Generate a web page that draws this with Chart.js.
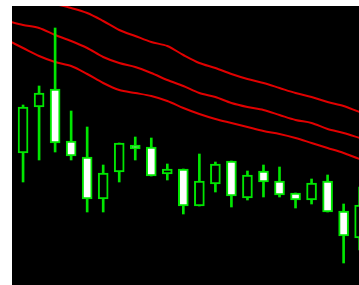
<!DOCTYPE html>
<html>
<head>
<meta charset="utf-8">
<script src="https://cdn.jsdelivr.net/npm/chart.js@4/dist/chart.umd.min.js"></script>
<style>
    body { margin: 0; background: #fff; }
    #wrap { width: 359px; height: 285px; }
</style>
</head>
<body>
<div id="wrap"><canvas id="chart"></canvas></div>
<script>
// candles, index 0..21
let opens  = [1.2632, 1.2678, 1.2696, 1.2644, 1.2628, 1.2586, 1.2613, 1.2640, 1.2638, 1.2611, 1.2616, 1.2579, 1.2601, 1.2624, 1.2587, 1.2614, 1.2604, 1.2592, 1.2585, 1.2604, 1.2574, 1.2547]
let highs  = [1.2680, 1.2699, 1.2757, 1.2674, 1.2658, 1.2620, 1.2642, 1.2648, 1.2647, 1.2621, 1.2616, 1.2631, 1.2623, 1.2624, 1.2614, 1.2620, 1.2618, 1.2592, 1.2606, 1.2610, 1.2581, 1.2598]
let lows   = [1.2603, 1.2625, 1.2633, 1.2625, 1.2573, 1.2573, 1.2603, 1.2625, 1.2609, 1.2605, 1.2571, 1.2579, 1.2593, 1.2578, 1.2585, 1.2588, 1.2588, 1.2577, 1.2581, 1.2573, 1.2522, 1.2535]
let closes = [1.2678, 1.2692, 1.2642, 1.2629, 1.2586, 1.2612, 1.2642, 1.2636, 1.2609, 1.2616, 1.2579, 1.2604, 1.2621, 1.2589, 1.2610, 1.2603, 1.2590, 1.2585, 1.2602, 1.2573, 1.2549, 1.2580]

// band lines, index -1..22
let bandIndex = [-1, 0, 1, 2, 3, 4, 5, 6, 7, 8, 9, 10, 11, 12, 13, 14, 15, 16, 17, 18, 19, 20, 21, 22]
let upperBand = [1.2794, 1.2789, 1.2785, 1.2781, 1.2777, 1.2772, 1.2764, 1.2755, 1.2749, 1.2743, 1.2739, 1.2730, 1.2722, 1.2717, 1.2711, 1.2706, 1.2702, 1.2697, 1.2692, 1.2688, 1.2683, 1.2679, 1.2673, 1.2668]
let middleBand = [1.2764, 1.2760, 1.2757, 1.2750, 1.2744, 1.2737, 1.2728, 1.2722, 1.2718, 1.2712, 1.2705, 1.2699, 1.2692, 1.2688, 1.2682, 1.2678, 1.2675, 1.2670, 1.2665, 1.2662, 1.2656, 1.2652, 1.2647, 1.2642]
let lowerBand = [1.2745, 1.2737, 1.2729, 1.2723, 1.2719, 1.2711, 1.2702, 1.2695, 1.2692, 1.2689, 1.2684, 1.2677, 1.2671, 1.2666, 1.2662, 1.2658, 1.2654, 1.2651, 1.2647, 1.2642, 1.2637, 1.2632, 1.2626, 1.2621]

let green = '#00e600'
let red = '#e00000'

let bodies = opens.map(function (o, i) { return {x: i, y: [o, closes[i]]} })
let wicks = highs.map(function (h, i) { return {x: i, y: [lows[i], h]} })
let bodyFill = opens.map(function (o, i) { return closes[i] < o ? '#ffffff' : '#000000' })

function band(values) {
    return values.map(function (v, i) { return {x: bandIndex[i], y: v} })
}

function lineSet(values) {
    return {
        type: 'line',
        data: band(values),
        borderColor: red,
        borderWidth: 2,
        pointRadius: 0,
        tension: 0.3,
        clip: 0,
        order: 2
    }
}

let bgPlugin = {
    id: 'bg',
    beforeDraw: function (chart) {
        let ctx = chart.ctx
        let a = chart.chartArea
        ctx.save()
        ctx.fillStyle = '#ffffff'
        ctx.fillRect(0, 0, chart.width, chart.height)
        ctx.fillStyle = '#000000'
        ctx.fillRect(a.left, a.top, a.right - a.left, a.bottom - a.top)
        ctx.restore()
    }
}

new Chart(document.getElementById('chart'), {
    type: 'bar',
    data: {
        datasets: [
            {
                data: bodies,
                backgroundColor: bodyFill,
                borderColor: green,
                borderWidth: 2,
                borderSkipped: false,
                barThickness: 10,
                grouped: false,
                clip: 0,
                order: 0
            },
            {
                data: wicks,
                backgroundColor: green,
                borderWidth: 0,
                barThickness: 2,
                grouped: false,
                clip: 0,
                order: 1
            },
            lineSet(upperBand),
            lineSet(middleBand),
            lineSet(lowerBand)
        ]
    },
    options: {
        responsive: true,
        maintainAspectRatio: false,
        animation: false,
        layout: { padding: { left: 12, top: 6, right: 0, bottom: 0 } },
        plugins: { legend: { display: false }, tooltip: { enabled: false } },
        scales: {
            x: { type: 'linear', min: -0.69, max: 20.96, offset: false, bounds: 'ticks', display: false },
            y: { min: 1.2500, max: 1.2779, display: false }
        }
    },
    plugins: [bgPlugin]
})
</script>
</body>
</html>
